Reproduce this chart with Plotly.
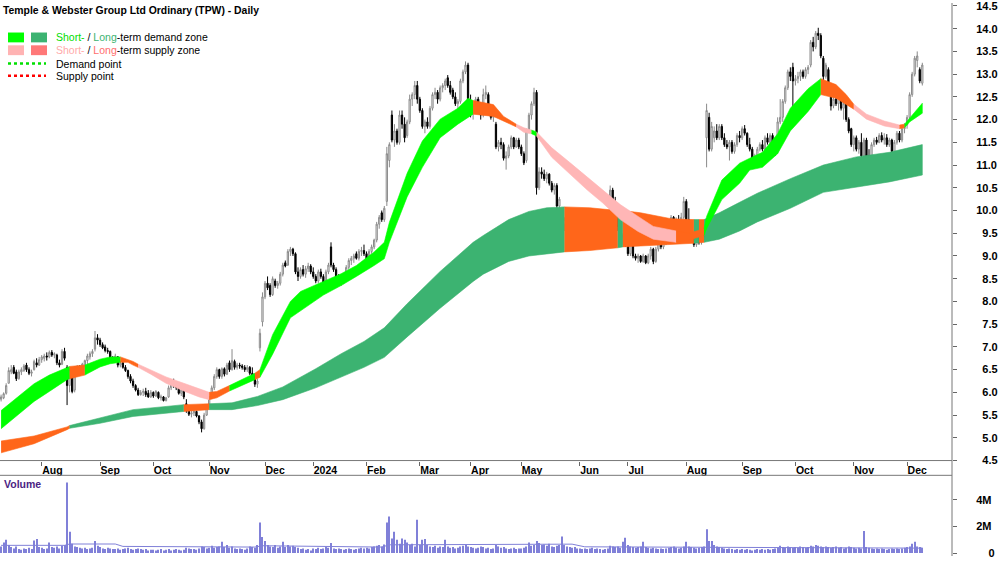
import numpy as np
import pandas as pd
import plotly.graph_objects as go

# ---------------- trading calendar ----------------
asx_holidays = ["2023-12-25", "2023-12-26", "2024-01-01", "2024-01-26",
                "2024-03-29", "2024-04-01", "2024-04-25", "2024-06-10"]
dates = pd.bdate_range("2023-07-10", "2024-12-10")
dates = dates[~dates.isin(pd.to_datetime(asx_holidays))]

month_labels = ["Aug", "Sep", "Oct", "Nov", "Dec", "2024", "Feb", "Mar", "Apr",
                "May", "Jun", "Jul", "Aug", "Sep", "Oct", "Nov", "Dec"]

price_tick_labels = ["4.5", "5.0", "5.5", "6.0", "6.5", "7.0", "7.5", "8.0", "8.5", "9.0",
                     "9.5", "10.0", "10.5", "11.0", "11.5", "12.0", "12.5", "13.0", "13.5",
                     "14.0", "14.5"]
volume_tick_labels = ["0", "2M", "4M"]
volume_tick_values = [0, 2e6, 4e6]

# ---------------- daily prices ----------------
opens = [
    5.85, 5.88, 5.98, 6.2, 6.45, 6.55, 6.45, 6.3, 6.45, 6.48,
    6.6, 6.5, 6.42, 6.5, 6.65, 6.6, 6.72, 6.75, 6.8, 6.78,
    6.88, 6.82, 6.82, 6.65, 6.62, 6.9, 6.55, 6.15, 6.45, 6.05,
    6.4, 6.55, 6.5, 6.6, 6.7, 6.78, 6.85, 6.95, 7.2, 7.15,
    7.05, 7.0, 6.92, 6.9, 6.75, 6.7, 6.78, 6.6, 6.65, 6.55,
    6.48, 6.35, 6.25, 6.15, 6.05, 5.95, 6.0, 6.02, 5.98, 5.9,
    6.0, 5.92, 6.0, 5.88, 5.9, 5.82, 5.9, 6.1, 6.2, 6.15,
    6.1, 5.98, 6.05, 5.75, 5.6, 5.52, 5.55, 5.58, 5.48, 5.35,
    5.2, 5.5, 5.68, 5.88, 6.1, 6.35, 6.5, 6.35, 6.52, 6.4,
    6.65, 6.5, 6.68, 6.55, 6.6, 6.58, 6.55, 6.5, 6.55, 6.42,
    6.35, 6.18, 6.98, 7.55, 8.1, 8.4, 8.35, 8.15, 8.45, 8.35,
    8.4, 8.6, 8.85, 8.8, 9.1, 9.15, 9.05, 8.65, 8.55, 8.7,
    8.6, 8.72, 8.78, 8.65, 8.55, 8.45, 8.65, 8.55, 8.42, 8.65,
    9.2, 8.8, 8.7, 8.55, 8.45, 8.42, 8.55, 8.75, 8.9, 8.95,
    9.05, 8.95, 9.1, 9.12, 9.05, 8.85, 9.1, 9.2, 9.35, 9.7,
    9.95, 9.8, 10.2, 11.1, 12.1, 11.55, 11.75, 11.5, 12.1, 11.9,
    11.65, 11.95, 12.45, 12.55, 12.75, 12.45, 12.2, 11.85, 11.95, 11.85,
    12.25, 12.55, 12.6, 12.45, 12.7, 12.75, 12.92, 12.75, 12.65, 12.5,
    12.35, 12.4, 12.85, 13.05, 13.2, 12.4, 12.15, 12.3, 12.45, 12.2,
    12.1, 12.55, 12.55, 12.25, 12.05, 11.9, 11.4, 11.5, 11.45, 11.15,
    11.2, 11.4, 11.6, 11.4, 11.55, 11.4, 11.25, 11.1, 11.75, 12.1,
    12.35, 12.6, 10.5, 10.85, 10.8, 10.7, 10.8, 10.6, 10.45, 10.55,
    10.1, 10.0, 9.7, 9.8, 9.75, 9.55, 9.65, 9.6, 9.4, 9.6,
    9.45, 9.35, 9.5, 9.55, 9.7, 9.55, 9.9, 9.75, 9.6, 9.8,
    9.9, 10.45, 10.15, 9.8, 9.65, 9.4, 9.45, 9.3, 9.05, 9.25,
    9.0, 8.95, 9.0, 8.88, 9.0, 8.85, 9.0, 9.15, 8.88, 9.15,
    9.35, 9.2, 9.4, 9.3, 9.6, 9.85, 9.65, 9.8, 9.75, 9.85,
    10.2, 9.8, 9.65, 9.45, 9.25, 9.4, 9.3, 9.45, 11.6, 12.05,
    11.35, 11.6, 11.75, 11.6, 11.85, 11.6, 11.45, 11.4, 11.5, 11.3,
    11.45, 11.65, 11.6, 11.8, 11.7, 11.45, 11.35, 11.15, 11.2, 11.35,
    11.45, 11.35, 11.6, 11.5, 11.65, 11.5, 11.3, 11.95, 12.05, 12.4,
    12.7, 13.05, 13.15, 12.85, 12.9, 12.95, 13.05, 12.95, 13.1, 13.2,
    13.7, 13.6, 13.9, 13.85, 13.35, 12.95, 13.1, 12.6, 12.3, 12.45,
    12.35, 12.55, 12.25, 12.35, 12.0, 11.8, 11.45, 11.6, 11.35, 11.5,
    11.2, 11.55, 11.2, 11.1, 11.45, 11.55, 11.5, 11.65, 11.55, 11.6,
    11.45, 11.55, 11.3, 11.5, 11.7, 11.55, 11.8, 11.88, 12.05, 12.55,
    13.0, 13.3, 13.1, 12.8,
]
highs = [
    5.95, 6.0, 6.2, 6.55, 6.6, 6.6, 6.5, 6.5, 6.55, 6.62,
    6.65, 6.55, 6.5, 6.72, 6.75, 6.78, 6.82, 6.85, 6.88, 6.92,
    6.93, 6.88, 6.85, 6.72, 6.95, 6.98, 6.6, 6.55, 6.5, 6.45,
    6.6, 6.6, 6.65, 6.72, 6.85, 6.9, 6.95, 7.35, 7.28, 7.2,
    7.1, 7.05, 6.98, 6.92, 6.8, 6.85, 6.8, 6.7, 6.7, 6.6,
    6.5, 6.4, 6.3, 6.18, 6.1, 6.05, 6.08, 6.1, 6.05, 6.05,
    6.02, 6.05, 6.02, 5.95, 5.92, 5.9, 6.15, 6.25, 6.3, 6.2,
    6.12, 6.08, 6.08, 5.85, 5.68, 5.6, 5.62, 5.6, 5.5, 5.4,
    5.55, 5.72, 5.92, 6.15, 6.4, 6.55, 6.52, 6.55, 6.55, 6.65,
    6.7, 6.95, 6.72, 6.65, 6.65, 6.62, 6.6, 6.6, 6.58, 6.55,
    6.4, 6.3, 7.4, 8.2, 8.45, 8.55, 8.4, 8.55, 8.5, 8.45,
    8.65, 8.85, 8.9, 9.15, 9.2, 9.18, 9.08, 8.75, 8.75, 8.8,
    8.78, 8.85, 8.82, 8.75, 8.6, 8.7, 8.72, 8.6, 8.7, 8.85,
    9.3, 8.85, 8.75, 8.6, 8.5, 8.6, 8.8, 8.95, 9.0, 9.05,
    9.1, 9.15, 9.2, 9.25, 9.1, 9.15, 9.25, 9.38, 9.75, 9.9,
    10.0, 10.1, 11.4, 11.5, 12.2, 11.9, 11.8, 12.2, 12.2, 12.05,
    12.0, 12.55, 12.6, 12.85, 12.85, 12.5, 12.25, 12.0, 12.05, 12.3,
    12.6, 12.7, 12.65, 12.75, 12.8, 12.9, 12.98, 12.85, 12.7, 12.6,
    12.45, 12.9, 13.1, 13.28, 13.25, 12.55, 12.35, 12.5, 12.5, 12.3,
    12.68, 12.75, 12.6, 12.3, 12.15, 11.95, 11.55, 11.6, 11.5, 11.3,
    11.45, 11.65, 11.62, 11.6, 11.6, 11.45, 11.3, 11.8, 12.15, 12.4,
    12.7, 12.65, 10.95, 10.95, 10.9, 10.85, 10.82, 10.65, 10.6, 10.6,
    10.3, 10.05, 9.85, 9.9, 9.8, 9.7, 9.75, 9.65, 9.65, 9.62,
    9.5, 9.55, 9.6, 9.75, 9.72, 9.95, 9.95, 9.8, 9.85, 9.95,
    10.55, 10.5, 10.3, 9.9, 9.7, 9.5, 9.5, 9.35, 9.3, 9.28,
    9.05, 9.05, 9.02, 9.05, 9.02, 9.05, 9.2, 9.18, 9.2, 9.4,
    9.4, 9.45, 9.5, 9.65, 9.9, 9.88, 9.85, 9.9, 9.95, 10.3,
    10.25, 10.05, 9.7, 9.5, 9.45, 9.42, 9.5, 9.5, 12.35, 12.15,
    11.95, 11.85, 11.9, 11.9, 11.9, 11.7, 11.55, 11.55, 11.55, 11.5,
    11.7, 11.75, 11.85, 11.88, 11.72, 11.6, 11.4, 11.25, 11.4, 11.5,
    11.55, 11.65, 11.7, 11.7, 11.7, 11.55, 12.05, 12.45, 12.45, 12.75,
    13.1, 13.15, 13.25, 12.98, 13.05, 13.1, 13.1, 13.15, 13.2, 13.75,
    13.82, 13.95, 14.02, 13.9, 13.4, 13.25, 13.15, 12.62, 12.5, 12.5,
    12.6, 12.6, 12.4, 12.38, 12.05, 11.82, 11.65, 11.65, 11.55, 11.7,
    11.6, 11.6, 11.35, 11.5, 11.6, 11.62, 11.7, 11.72, 11.7, 11.68,
    11.6, 11.58, 11.55, 11.75, 11.75, 11.85, 11.92, 12.1, 12.6, 13.05,
    13.4, 13.5, 13.15, 13.25,
]
lows = [
    5.8, 5.85, 5.95, 6.2, 6.4, 6.4, 6.25, 6.28, 6.38, 6.45,
    6.45, 6.38, 6.35, 6.48, 6.55, 6.58, 6.65, 6.68, 6.7, 6.75,
    6.78, 6.75, 6.6, 6.55, 6.6, 6.7, 5.72, 6.0, 5.98, 6.0,
    6.35, 6.45, 6.45, 6.55, 6.62, 6.72, 6.78, 6.9, 7.05, 7.0,
    6.95, 6.88, 6.85, 6.72, 6.65, 6.65, 6.55, 6.55, 6.52, 6.45,
    6.3, 6.2, 6.1, 6.02, 5.92, 5.93, 5.92, 5.9, 5.88, 5.88,
    5.88, 5.9, 5.85, 5.82, 5.8, 5.8, 5.88, 6.05, 6.1, 6.05,
    5.95, 5.92, 5.85, 5.55, 5.48, 5.45, 5.48, 5.45, 5.3, 5.12,
    5.18, 5.48, 5.65, 5.85, 6.05, 6.3, 6.3, 6.3, 6.35, 6.38,
    6.45, 6.48, 6.5, 6.5, 6.52, 6.5, 6.45, 6.45, 6.38, 6.3,
    6.12, 6.1, 6.9, 7.45, 8.05, 8.25, 8.1, 8.12, 8.3, 8.28,
    8.35, 8.55, 8.75, 8.78, 9.0, 9.0, 8.6, 8.45, 8.5, 8.55,
    8.52, 8.65, 8.6, 8.5, 8.4, 8.4, 8.5, 8.35, 8.4, 8.6,
    8.75, 8.65, 8.5, 8.4, 8.35, 8.38, 8.5, 8.7, 8.8, 8.85,
    8.92, 8.9, 9.0, 9.0, 8.8, 8.82, 9.05, 9.15, 9.3, 9.6,
    9.75, 9.75, 10.1, 10.95, 11.5, 11.4, 11.45, 11.45, 11.8, 11.5,
    11.6, 11.9, 12.3, 12.45, 12.35, 12.15, 11.8, 11.7, 11.8, 11.8,
    12.2, 12.45, 12.35, 12.4, 12.6, 12.65, 12.7, 12.55, 12.45, 12.3,
    12.2, 12.35, 12.8, 13.0, 12.3, 12.05, 12.0, 12.2, 12.15, 12.0,
    12.05, 12.45, 12.2, 12.0, 11.95, 11.35, 11.3, 11.35, 11.1, 10.9,
    11.15, 11.35, 11.35, 11.38, 11.35, 11.2, 11.0, 11.05, 11.7, 12.0,
    12.3, 10.35, 10.45, 10.7, 10.65, 10.6, 10.55, 10.4, 10.35, 10.05,
    10.05, 9.6, 9.55, 9.65, 9.5, 9.45, 9.55, 9.35, 9.35, 9.4,
    9.3, 9.3, 9.42, 9.5, 9.5, 9.5, 9.7, 9.55, 9.55, 9.75,
    9.85, 10.1, 9.75, 9.55, 9.35, 9.25, 9.2, 9.0, 9.0, 8.95,
    8.9, 8.85, 8.85, 8.85, 8.82, 8.82, 8.92, 8.82, 8.85, 9.1,
    9.15, 9.15, 9.25, 9.28, 9.55, 9.6, 9.6, 9.7, 9.6, 9.8,
    9.75, 9.55, 9.4, 9.2, 9.2, 9.25, 9.25, 9.35, 10.95, 11.3,
    11.3, 11.5, 11.55, 11.55, 11.55, 11.4, 11.35, 11.1, 11.25, 11.25,
    11.4, 11.5, 11.55, 11.65, 11.4, 11.3, 11.1, 11.0, 11.15, 11.3,
    11.3, 11.3, 11.45, 11.45, 11.4, 11.2, 11.25, 11.9, 11.95, 12.35,
    12.65, 12.85, 12.0, 12.75, 12.8, 12.85, 12.9, 12.9, 13.0, 13.15,
    13.5, 13.55, 13.75, 13.35, 12.85, 12.9, 12.55, 12.2, 12.25, 12.3,
    12.2, 12.2, 12.0, 11.95, 11.7, 11.4, 11.3, 11.3, 11.25, 11.15,
    11.1, 11.15, 11.0, 11.05, 11.4, 11.45, 11.48, 11.5, 11.45, 11.4,
    11.4, 11.15, 11.25, 11.45, 11.5, 11.5, 11.7, 11.8, 12.0, 12.5,
    12.95, 13.15, 12.8, 12.75,
]
closes = [
    5.9, 5.97, 6.15, 6.48, 6.5, 6.42, 6.3, 6.45, 6.5, 6.58,
    6.5, 6.42, 6.45, 6.68, 6.6, 6.72, 6.78, 6.8, 6.78, 6.88,
    6.82, 6.85, 6.65, 6.6, 6.9, 6.75, 6.15, 6.5, 6.02, 6.4,
    6.55, 6.5, 6.62, 6.7, 6.8, 6.85, 6.9, 7.2, 7.15, 7.05,
    6.98, 6.92, 6.9, 6.75, 6.7, 6.8, 6.6, 6.65, 6.55, 6.48,
    6.35, 6.25, 6.15, 6.05, 5.95, 6.0, 6.02, 5.95, 5.9, 6.0,
    5.92, 6.02, 5.88, 5.9, 5.82, 5.88, 6.1, 6.2, 6.15, 6.1,
    5.98, 6.05, 5.9, 5.6, 5.52, 5.55, 5.58, 5.48, 5.35, 5.2,
    5.5, 5.68, 5.88, 6.1, 6.35, 6.5, 6.35, 6.52, 6.4, 6.6,
    6.5, 6.7, 6.55, 6.6, 6.58, 6.55, 6.5, 6.55, 6.42, 6.35,
    6.18, 6.25, 7.3, 8.1, 8.4, 8.3, 8.15, 8.5, 8.35, 8.4,
    8.6, 8.8, 8.78, 9.1, 9.15, 9.05, 8.65, 8.55, 8.7, 8.6,
    8.72, 8.78, 8.65, 8.55, 8.45, 8.65, 8.55, 8.42, 8.65, 8.8,
    8.8, 8.7, 8.55, 8.45, 8.42, 8.55, 8.75, 8.9, 8.95, 9.0,
    8.95, 9.1, 9.12, 9.05, 8.85, 9.1, 9.2, 9.35, 9.7, 9.85,
    9.8, 10.05, 11.25, 11.45, 11.55, 11.75, 11.5, 12.1, 11.9, 11.6,
    11.95, 12.45, 12.55, 12.75, 12.45, 12.2, 11.85, 11.95, 11.85, 12.25,
    12.55, 12.6, 12.45, 12.7, 12.75, 12.85, 12.75, 12.6, 12.5, 12.35,
    12.4, 12.85, 13.05, 13.2, 12.4, 12.15, 12.3, 12.45, 12.2, 12.1,
    12.55, 12.6, 12.25, 12.05, 12.1, 11.4, 11.5, 11.45, 11.15, 11.2,
    11.4, 11.6, 11.4, 11.55, 11.4, 11.25, 11.05, 11.75, 12.1, 12.35,
    12.6, 10.5, 10.85, 10.8, 10.7, 10.8, 10.6, 10.45, 10.55, 10.1,
    10.25, 9.7, 9.8, 9.75, 9.55, 9.65, 9.6, 9.4, 9.6, 9.45,
    9.35, 9.5, 9.55, 9.7, 9.55, 9.9, 9.75, 9.6, 9.8, 9.9,
    10.45, 10.15, 9.8, 9.65, 9.4, 9.45, 9.25, 9.05, 9.25, 9.0,
    8.95, 9.0, 8.88, 9.0, 8.85, 9.0, 9.15, 8.88, 9.15, 9.35,
    9.2, 9.4, 9.3, 9.6, 9.85, 9.65, 9.8, 9.75, 9.85, 10.2,
    9.8, 9.65, 9.45, 9.25, 9.4, 9.3, 9.45, 9.42, 12.2, 11.35,
    11.85, 11.75, 11.6, 11.85, 11.6, 11.45, 11.4, 11.5, 11.3, 11.45,
    11.65, 11.6, 11.8, 11.7, 11.45, 11.35, 11.15, 11.2, 11.35, 11.45,
    11.35, 11.6, 11.5, 11.65, 11.45, 11.3, 11.95, 12.05, 12.4, 12.7,
    13.05, 12.95, 12.85, 12.9, 12.95, 13.05, 12.95, 13.1, 13.15, 13.7,
    13.6, 13.9, 13.85, 13.4, 12.95, 13.2, 12.6, 12.3, 12.45, 12.35,
    12.55, 12.25, 12.35, 12.0, 11.75, 11.45, 11.6, 11.35, 11.5, 11.2,
    11.55, 11.2, 11.1, 11.45, 11.55, 11.5, 11.65, 11.55, 11.6, 11.45,
    11.55, 11.3, 11.5, 11.7, 11.55, 11.8, 11.88, 12.05, 12.55, 13.0,
    13.35, 13.4, 12.85, 13.2,
]
# daily volume, millions of shares
volumes_m = [
    0.5, 0.8, 1.0, 0.6, 0.45, 0.35, 0.5, 0.3, 0.25, 0.35,
    0.3, 0.4, 0.3, 0.95, 1.05, 0.45, 0.4, 0.3, 0.35, 0.8,
    0.45, 0.4, 0.5, 0.35, 0.55, 0.6, 5.3, 1.6, 0.7, 0.5,
    0.45, 0.4, 0.35, 0.4, 0.3, 0.35, 0.4, 0.9, 0.55, 0.45,
    0.35, 0.3, 0.4, 0.35, 0.3, 0.3, 0.35, 0.25, 0.3, 0.35,
    0.4, 0.3, 0.25, 0.3, 0.35, 0.3, 0.25, 0.3, 0.2, 0.25,
    0.25, 0.2, 0.25, 0.3, 0.2, 0.25, 0.3, 0.2, 0.25, 0.3,
    0.25, 0.2, 0.25, 0.4, 0.35, 0.3, 0.3, 0.25, 0.35, 0.5,
    0.45, 0.35, 0.4, 0.55, 0.4, 0.45, 0.5, 0.85, 0.45, 0.6,
    0.4, 0.5, 0.35, 0.3, 0.35, 0.3, 0.25, 0.35, 0.5, 0.45,
    0.4, 0.6, 2.3, 1.2, 0.9, 0.6, 0.5, 0.45, 0.6, 0.4,
    0.5, 0.85, 0.45, 0.6, 0.5, 0.55, 0.45, 0.4, 0.3, 0.35,
    0.25, 0.3, 0.2, 0.35, 0.3, 0.4, 0.3, 0.35, 0.45, 0.4,
    0.75, 0.35, 0.3, 0.35, 0.3, 0.25, 0.3, 0.35, 0.3, 0.25,
    0.3, 0.35, 0.4, 0.35, 0.4, 0.35, 0.45, 0.5, 0.55, 0.6,
    0.5, 0.65, 2.3, 2.75, 1.1, 1.6, 1.0, 0.7, 1.1, 1.0,
    0.8, 0.6, 0.7, 0.5, 2.5, 0.6, 1.0, 1.05, 0.6, 0.5,
    0.45, 0.55, 0.4, 0.5, 0.45, 1.0, 0.5, 0.4, 0.45, 0.35,
    0.4, 0.5, 0.55, 0.6, 0.5, 0.45, 0.4, 0.35, 0.4, 0.5,
    0.45, 0.35, 0.4, 0.3, 0.35, 0.6, 0.5, 0.4, 0.45, 0.35,
    0.3, 0.35, 0.4, 0.3, 0.35, 0.35, 0.4, 0.5, 0.8, 0.55,
    0.6, 0.9, 0.75, 0.6, 0.65, 0.55, 0.7, 0.5, 0.45, 0.55,
    0.6, 1.25, 0.6, 0.5, 0.45, 0.4, 0.45, 0.35, 0.35, 0.3,
    0.35, 0.3, 0.35, 0.4, 0.3, 0.35, 0.3, 0.25, 0.3, 0.35,
    0.55, 0.5, 0.45, 0.5, 0.4, 0.85, 1.15, 0.6, 0.5, 0.45,
    0.4, 0.45, 0.5, 0.85, 0.45, 0.4, 0.35, 0.4, 0.35, 0.3,
    0.35, 0.3, 0.35, 0.4, 0.45, 0.5, 0.4, 0.35, 0.4, 0.5,
    0.85, 0.5, 0.45, 0.4, 0.35, 0.4, 0.45, 0.5, 1.8, 0.9,
    0.9, 0.6, 0.5, 0.45, 0.4, 0.35, 0.3, 0.35, 0.3, 0.25,
    0.3, 0.25, 0.3, 0.25, 0.3, 0.25, 0.2, 0.25, 0.3, 0.25,
    0.3, 0.25, 0.3, 0.25, 0.3, 0.35, 0.4, 0.55, 0.45, 0.4,
    0.5, 0.45, 0.4, 0.45, 0.4, 0.5, 0.45, 0.4, 0.45, 0.55,
    0.5, 0.6, 0.55, 0.5, 0.45, 0.5, 0.45, 0.4, 0.45, 0.5,
    0.4, 0.45, 0.35, 0.4, 0.5, 0.45, 0.4, 0.35, 0.4, 0.35,
    1.65, 0.45, 0.4, 0.35, 0.3, 0.35, 0.3, 0.35, 0.3, 0.25,
    0.3, 0.35, 0.3, 0.35, 0.3, 0.35, 0.4, 0.45, 0.5, 0.7,
    0.85, 0.5, 0.45, 0.4,
]
# volume average line (day index, millions)
vol_avg_idx = [0, 25, 27, 45, 48, 80, 100, 103, 125, 150, 153, 200, 210, 225, 230, 270, 280, 363]
vol_avg_m = [0.58, 0.58, 0.68, 0.68, 0.5, 0.48, 0.45, 0.55, 0.5, 0.45, 0.62, 0.62, 0.67, 0.67, 0.47, 0.45, 0.4, 0.37]

# ---------------- zone bands (day index, upper, lower) ----------------
short_idx = [0, 13, 19, 26, 27, 30, 33, 39, 43, 47, 50, 52, 54, 59, 65, 72, 78, 82, 85, 90,
             98, 100, 102, 107, 114, 118, 127, 134, 140, 147, 151, 153, 160, 166, 173, 180, 184,
             186, 194, 198, 203, 206, 209, 211, 217, 224, 231, 237, 244, 251, 257, 266, 271,
             277, 278, 284, 291, 295, 300, 306, 311, 318, 323, 329, 333, 336, 341, 348, 354,
             356, 358, 363]
short_upper = [5.6, 6.19, 6.38, 6.56, 6.57, 6.58, 6.6, 6.73, 6.78, 6.78, 6.73, 6.68, 6.62, 6.5,
               6.34, 6.2, 6.07, 6.0, 6.02, 6.15, 6.36, 6.42, 6.5, 7.27, 8.0, 8.22, 8.44, 8.61,
               8.79, 9.09, 9.3, 9.74, 10.82, 11.53, 12.01, 12.25, 12.47, 12.42, 12.33, 12.07,
               11.9, 11.82, 11.77, 11.73, 11.38, 11.06, 10.73, 10.45, 10.13, 9.87, 9.65, 9.55,
               9.5, 9.6, 9.87, 10.67, 11.04, 11.15, 11.28, 11.69, 12.25, 12.68, 12.9, 12.77,
               12.55, 12.34, 12.12, 11.97, 11.88, 11.9, 12.03, 12.36]
short_lower = [5.2, 5.8, 6.02, 6.28, 6.3, 6.34, 6.38, 6.56, 6.63, 6.66, 6.66, 6.6, 6.55, 6.4,
               6.2, 6.03, 5.9, 5.84, 5.88, 6.03, 6.23, 6.28, 6.33, 6.84, 7.64, 7.79, 8.14, 8.35,
               8.55, 8.79, 8.94, 9.3, 10.3, 10.95, 11.6, 11.9, 12.05, 12.12, 12.07, 11.97,
               11.84, 11.72, 11.69, 11.64, 11.17, 10.82, 10.45, 10.17, 9.8, 9.54, 9.37, 9.3,
               9.35, 9.45, 9.6, 10.24, 10.6, 10.89, 10.95, 11.25, 11.75, 12.18, 12.55, 12.47,
               12.34, 12.23, 12.01, 11.86, 11.8, 11.82, 11.95, 12.14]
short_zone_start = [0, 27, 33, 47, 54, 82, 90, 100, 102, 186, 203, 209, 211, 266, 277, 323, 336, 354, 356]
short_zone_kind = ["demand", "supply_turn", "demand", "supply_turn", "supply", "supply_turn", "demand",
                   "supply_turn", "demand", "supply_turn", "supply", "demand", "supply", "supply_turn",
                   "demand", "supply_turn", "supply", "supply_turn", "demand"]

long_idx = [0, 13, 26, 27, 39, 52, 65, 72, 82, 91, 101, 111, 124, 134, 143, 151, 160, 173, 186,
            190, 200, 208, 215, 222, 232, 243, 245, 252, 264, 273, 275, 277, 283, 291, 298, 311,
            324, 337, 350, 363]
long_upper = [4.93, 5.04, 5.24, 5.27, 5.43, 5.62, 5.69, 5.73, 5.75, 5.77, 5.91, 6.12, 6.52, 6.85,
              7.12, 7.42, 7.95, 8.66, 9.3, 9.45, 9.8, 9.98, 10.06, 10.08, 10.06, 10.0, 10.0, 9.95,
              9.82, 9.8, 9.8, 9.8, 9.95, 10.18, 10.38, 10.7, 11.0, 11.18, 11.28, 11.45]
long_lower = [4.67, 4.87, 5.18, 5.21, 5.32, 5.47, 5.54, 5.58, 5.62, 5.62, 5.71, 5.84, 6.1, 6.34,
              6.55, 6.77, 7.22, 7.85, 8.44, 8.6, 8.88, 9.0, 9.05, 9.09, 9.12, 9.18, 9.2, 9.22,
              9.26, 9.28, 9.29, 9.3, 9.37, 9.55, 9.75, 10.05, 10.4, 10.52, 10.63, 10.78]
long_zone_start = [0, 27, 72, 82, 222, 243, 245, 273, 275, 277]
long_zone_kind = ["supply_turn", "demand", "supply_turn", "demand", "supply_turn", "demand",
                  "supply_turn", "demand", "supply_turn", "demand"]

assert len(dates) == len(opens) == len(highs) == len(lows) == len(closes) == len(volumes_m), \
    (len(dates), len(opens), len(highs), len(lows), len(closes), len(volumes_m))
assert len(short_idx) == len(short_upper) == len(short_lower)
assert len(long_idx) == len(long_upper) == len(long_lower)

# ---------------- styling ----------------
BRIGHT_GREEN = "#00FF00"
DARK_GREEN = "#3CB371"
PINK = "#FFB6B6"
ORANGE = "#FF661A"
short_colors = {"demand": BRIGHT_GREEN, "supply": PINK, "supply_turn": ORANGE}
long_colors = {"demand": DARK_GREEN, "supply": ORANGE, "supply_turn": ORANGE}
VOL_COLOR = "#8080D8"
FONT = "Liberation Sans, Arial, sans-serif"

W, H = 1000, 562
PLOT_RIGHT = 952
PRICE_BOTTOM = 465
VOL_TOP = 480

def px(x):
    return x / W

def py(y):
    return 1 - y / H

xi = np.arange(len(dates))
per = dates.to_period("M")
month_pos = [i for i in range(1, len(dates)) if per[i] != per[i - 1]]

fig = go.Figure()

def add_band(b_idx, b_up, b_lo, starts, kinds, colors):
    last = b_idx[-1]
    for k, s in enumerate(starts):
        e = starts[k + 1] if k + 1 < len(starts) else last
        sel = [j for j, t in enumerate(b_idx) if s <= t <= e]
        xs = [b_idx[j] for j in sel] + [b_idx[j] for j in reversed(sel)]
        ys = [b_up[j] for j in sel] + [b_lo[j] for j in reversed(sel)]
        c = colors[kinds[k]]
        fig.add_trace(go.Scatter(x=xs, y=ys, mode="lines", fill="toself", fillcolor=c,
                                 line=dict(color=c, width=0.6), hoverinfo="skip",
                                 showlegend=False, xaxis="x", yaxis="y"))

add_band(long_idx, long_upper, long_lower, long_zone_start, long_zone_kind, long_colors)
add_band(short_idx, short_upper, short_lower, short_zone_start, short_zone_kind, short_colors)

fig.add_trace(go.Candlestick(
    x=xi, open=opens, high=highs, low=lows, close=closes,
    increasing=dict(line=dict(color="#8A8A8A", width=1), fillcolor="white"),
    decreasing=dict(line=dict(color="black", width=1), fillcolor="black"),
    whiskerwidth=0, showlegend=False, xaxis="x", yaxis="y", hoverinfo="skip"))

fig.add_trace(go.Bar(x=xi, y=[v * 1e6 for v in volumes_m], width=0.4,
                     marker=dict(color=VOL_COLOR, line=dict(width=0)),
                     showlegend=False, xaxis="x2", yaxis="y2", hoverinfo="skip"))
fig.add_trace(go.Scatter(x=vol_avg_idx, y=[v * 1e6 for v in vol_avg_m], mode="lines",
                         line=dict(color=VOL_COLOR, width=1), showlegend=False,
                         xaxis="x2", yaxis="y2", hoverinfo="skip"))

x_range = [-0.43, 374.7]
price_vals = [float(t) for t in price_tick_labels]
price_text = [("\u2007" + t) if len(t) < 4 else t for t in price_tick_labels]
vol_text = [("\u2007\u2007" + t) if len(t) == 1 else t for t in volume_tick_labels]

tickfont = dict(family=FONT, size=11, color="black", weight="bold")

fig.update_layout(
    width=W, height=H, margin=dict(l=0, r=0, t=0, b=0),
    paper_bgcolor="white", plot_bgcolor="white", showlegend=False, hovermode=False,
    xaxis=dict(domain=[0, px(PLOT_RIGHT)], range=x_range, anchor="y",
               showgrid=False, zeroline=False, showline=False,
               tickvals=month_pos, ticktext=month_labels, ticks="outside", ticklen=4,
               tickcolor="#666666", ticklabelposition="outside right",
               tickfont=dict(family=FONT, size=10.5, color="black", weight="bold"),
               rangeslider=dict(visible=False), fixedrange=True),
    yaxis=dict(domain=[py(PRICE_BOTTOM), 1], range=[4.5, 14.5 + 3 / 46.2], anchor="x",
               side="right", showgrid=False, zeroline=False, showline=False,
               tickvals=price_vals, ticktext=price_text, ticks="outside", ticklen=4,
               tickcolor="#666666", tickfont=tickfont, ticklabelstandoff=17,
               ticklabeloverflow="allow", fixedrange=True),
    xaxis2=dict(domain=[0, px(PLOT_RIGHT)], range=x_range, anchor="y2", matches="x",
                showgrid=False, zeroline=False, showticklabels=False, ticks="", showline=False),
    yaxis2=dict(domain=[0, py(VOL_TOP)], range=[-0.222e6, 5.85e6], anchor="x2", side="right",
                showgrid=False, zeroline=False, showline=False, tickvals=volume_tick_values,
                ticktext=vol_text, ticks="outside", ticklen=4, tickcolor="#666666",
                tickfont=tickfont, ticklabelstandoff=17, ticklabeloverflow="allow",
                fixedrange=True),
)

# frame lines
shapes = [
    dict(type="line", xref="paper", yref="paper", x0=0, x1=px(PLOT_RIGHT), y0=py(PRICE_BOTTOM), y1=py(PRICE_BOTTOM),
         line=dict(color="#777777", width=1)),
    dict(type="line", xref="paper", yref="paper", x0=0, x1=px(PLOT_RIGHT), y0=py(VOL_TOP), y1=py(VOL_TOP),
         line=dict(color="#777777", width=1)),
    dict(type="line", xref="paper", yref="paper", x0=px(PLOT_RIGHT), x1=px(PLOT_RIGHT), y0=0, y1=1,
         line=dict(color="#777777", width=1)),
]
# legend swatches
legend_rows = [
    (35, BRIGHT_GREEN, DARK_GREEN),
    (48, "#FFB3B3", "#FF7878"),
]
for yc, c1, c2 in legend_rows:
    shapes.append(dict(type="rect", xref="paper", yref="paper", x0=px(8), x1=px(24),
                       y0=py(yc + 5), y1=py(yc - 5), fillcolor=c1, line=dict(width=0)))
    shapes.append(dict(type="rect", xref="paper", yref="paper", x0=px(31), x1=px(47),
                       y0=py(yc + 5), y1=py(yc - 5), fillcolor=c2, line=dict(width=0)))
shapes.append(dict(type="line", xref="paper", yref="paper", x0=px(8), x1=px(46), y0=py(61.5), y1=py(61.5),
                   line=dict(color="#00E000", width=2.5, dash="dot")))
shapes.append(dict(type="line", xref="paper", yref="paper", x0=px(8), x1=px(46), y0=py(74), y1=py(74),
                   line=dict(color="#FF0000", width=2.5, dash="dot")))
fig.update_layout(shapes=shapes)

ann = []
ann.append(dict(text="<b>Temple &amp; Webster Group Ltd Ordinary (TPW) - Daily</b>", x=px(1), y=py(7.5),
                xref="paper", yref="paper", xanchor="left", yanchor="middle", showarrow=False,
                font=dict(family=FONT, size=10.4, color="black")))
legend_texts = [
    (35, '<span style="color:#00DD00">Short-</span> / <span style="color:#3CB371">Long</span>-term demand zone'),
    (48, '<span style="color:#FFAAAA">Short-</span> / <span style="color:#FF6E6E">Long</span>-term supply zone'),
    (61.5, "Demand point"),
    (74, "Supply point"),
]
for yc, t in legend_texts:
    ann.append(dict(text=t, x=px(54), y=py(yc), xref="paper", yref="paper", xanchor="left",
                    yanchor="middle", showarrow=False, font=dict(family=FONT, size=10.5, color="black")))
ann.append(dict(text="<b>Volume</b>", x=px(2), y=py(489), xref="paper", yref="paper", xanchor="left",
                yanchor="middle", showarrow=False, font=dict(family=FONT, size=10.5, color="#4B2383")))
fig.update_layout(annotations=ann)

fig.write_html("out.html")
